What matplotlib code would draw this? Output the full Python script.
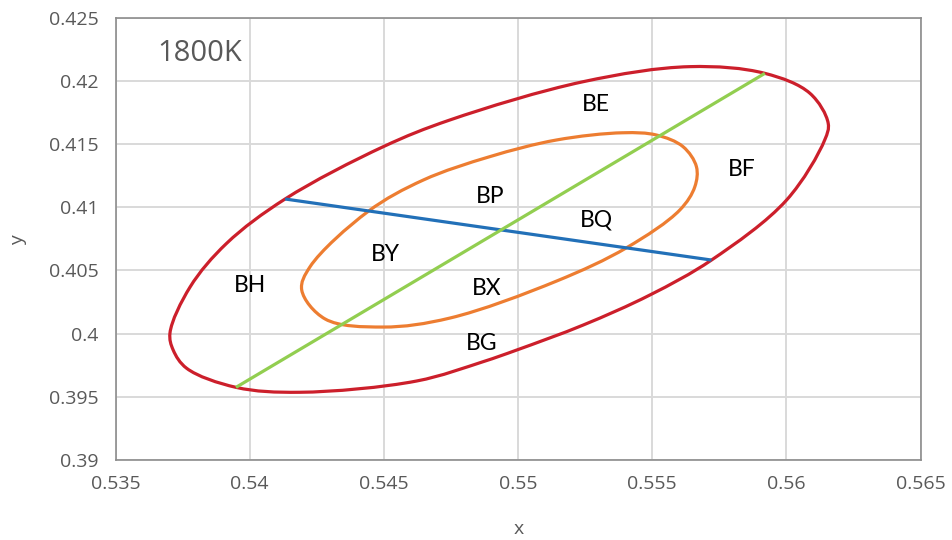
import numpy as np
import matplotlib
matplotlib.use('Agg')
import matplotlib.pyplot as plt
from matplotlib.path import Path
from matplotlib.patches import PathPatch

# ellipse outlines (x, y chromaticity)
red_x = [0.54746, 0.54498, 0.54132, 0.53914, 0.53778, 0.53703, 0.53715, 0.53765,
         0.53949, 0.54187, 0.54622, 0.54870, 0.54995, 0.55243, 0.55491,
         0.55721, 0.56001, 0.56143, 0.56156, 0.56088, 0.55920, 0.55640, 0.55243]
red_y = [0.41690, 0.41479, 0.41065, 0.40714, 0.40369, 0.40005, 0.39870, 0.39726,
         0.39575, 0.39536, 0.39625, 0.39778, 0.39870, 0.40068, 0.40305,
         0.40582, 0.41057, 0.41532, 0.41664, 0.41901, 0.42059, 0.42112, 0.41993]

orange_x = [0.55392, 0.55516, 0.55615, 0.55665, 0.55659, 0.55603, 0.55405, 0.55144,
            0.54746, 0.54497, 0.54281, 0.54194, 0.54225, 0.54441, 0.54647, 0.54895,
            0.55144]
orange_y = [0.41589, 0.41571, 0.41479, 0.41320, 0.41162, 0.40978, 0.40680, 0.40416,
            0.40123, 0.40052, 0.40116, 0.40345, 0.40529, 0.40966, 0.41215, 0.41400,
            0.41532]

blue_x = [0.54132, 0.55721]
blue_y = [0.41065, 0.40582]
green_x = [0.53949, 0.55920]
green_y = [0.39575, 0.42059]

labels = ['BE', 'BF', 'BP', 'BQ', 'BY', 'BH', 'BX', 'BG']
label_x = [0.55289, 0.55833, 0.54895, 0.55293, 0.54504, 0.54001, 0.54883, 0.54866]
label_y = [0.41814, 0.41300, 0.41083, 0.40899, 0.40622, 0.40379, 0.40358, 0.39918]

x_ticks = [0.535, 0.54, 0.545, 0.55, 0.555, 0.56, 0.565]
y_ticks = [0.39, 0.395, 0.4, 0.405, 0.41, 0.415, 0.42, 0.425]


def smooth_closed(ax, xs, ys):
    # smoothed closed line (centripetal Catmull-Rom drawn as Bezier curves),
    # knot spacing measured in screen units so both axes count the same
    p = np.column_stack([xs, ys])
    s = ax.transData.transform(p)
    n = len(p)
    verts = [p[0]]
    codes = [Path.MOVETO]
    for i in range(n):
        i0, i1, i2, i3 = i - 1, i, (i + 1) % n, (i + 2) % n
        d0 = np.linalg.norm(s[i1] - s[i0]) ** 0.5
        d1 = np.linalg.norm(s[i2] - s[i1]) ** 0.5
        d2 = np.linalg.norm(s[i3] - s[i2]) ** 0.5
        p0, p1, p2, p3 = p[i0], p[i1], p[i2], p[i3]
        t1 = d1 * ((p1 - p0) / d0 - (p2 - p0) / (d0 + d1) + (p2 - p1) / d1)
        t2 = d1 * ((p2 - p1) / d1 - (p3 - p1) / (d1 + d2) + (p3 - p2) / d2)
        verts += [p1 + t1 / 3, p2 - t2 / 3, p2]
        codes += [Path.CURVE4] * 3
    return Path(verts, codes)


plt.rcParams['font.family'] = ['Open Sans', 'DejaVu Sans']
grey = '#595959'

fig = plt.figure(figsize=(9.53, 5.4), dpi=100)
ax = fig.add_axes([0.1212, 0.1481, 0.8447, 0.8193])
ax.set_xlim(0.535, 0.565)
ax.set_ylim(0.39, 0.425)

ax.add_patch(PathPatch(smooth_closed(ax, red_x, red_y), fill=False, ec='#CC1F2B', lw=2.3, zorder=3))
ax.add_patch(PathPatch(smooth_closed(ax, orange_x, orange_y), fill=False, ec='#ED7D31', lw=2.3, zorder=3))
ax.plot(blue_x, blue_y, color='#2270B8', lw=2.3, solid_capstyle='butt', zorder=4)
ax.plot(green_x, green_y, color='#92CE50', lw=2.3, solid_capstyle='butt', zorder=5)

for t, x, y in zip(labels, label_x, label_y):
    ax.text(x, y, t, ha='center', va='center', fontsize=16.5, family=['Lato', 'DejaVu Sans'],
            color='black', zorder=6)

ax.text(0.53813, 0.42214, '1800K', ha='center', va='center', fontsize=21, color=grey, zorder=6)

ax.set_xticks(x_ticks)
ax.set_yticks(y_ticks)
ax.set_xticklabels([f'{round(v, 3):g}' for v in x_ticks])
ax.set_yticklabels([f'{round(v, 3):g}' for v in y_ticks])
ax.tick_params(axis='both', length=0, labelsize=14, labelcolor=grey)
ax.tick_params(axis='x', pad=11)
ax.tick_params(axis='y', pad=12)

ax.grid(True, color='#D9D9D9', lw=1.4)
ax.set_axisbelow(True)
for s in ax.spines.values():
    s.set_color('#8C8C8C')
    s.set_linewidth(1.2)

ax.set_xlabel('x', fontsize=14, color=grey)
ax.set_ylabel('y', fontsize=14, color=grey)
ax.xaxis.set_label_coords(0.501, -0.135)
ax.yaxis.set_label_coords(-0.11, 0.497)

fig.savefig('out.png', dpi=100)
